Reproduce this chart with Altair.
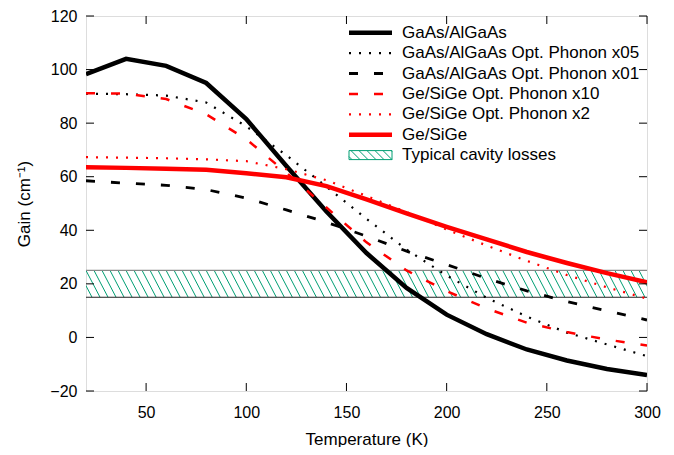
import altair as alt
import pandas as pd
import numpy as np

# ---------------- data ----------------
temps = [20, 40, 60, 80, 100, 120, 140, 160, 180, 200, 220, 240, 260, 280, 300]

gaas = [98.3, 104.0, 101.4, 95.0, 81.5, 64.0, 47.0, 31.5, 18.5, 8.5, 1.2, -4.5, -8.6, -11.8, -14.0]
gaas_x05 = [91.0, 90.8, 90.3, 87.7, 78.8, 68.0, 56.3, 44.3, 32.8, 23.1, 14.8, 7.8, 1.8, -2.6, -7.0]
gaas_x01 = [58.5, 57.6, 56.8, 55.2, 52.0, 47.6, 43.0, 37.8, 32.2, 27.2, 22.0, 17.4, 13.4, 9.9, 6.5]
ge_x10 = [91.2, 91.0, 89.0, 83.3, 74.0, 61.5, 48.5, 35.5, 25.0, 17.3, 10.8, 5.5, 2.0, -0.8, -3.0]
ge_x2 = [67.3, 67.1, 66.9, 66.5, 65.8, 62.8, 58.7, 52.8, 46.8, 40.3, 34.3, 28.6, 23.3, 18.7, 14.5]
ge = [63.5, 63.3, 63.0, 62.6, 61.3, 59.8, 56.5, 51.5, 46.3, 41.3, 36.6, 31.9, 27.8, 24.0, 20.6]

labels = [
    "GaAs/AlGaAs",
    "GaAs/AlGaAs Opt. Phonon x05",
    "GaAs/AlGaAs Opt. Phonon x01",
    "Ge/SiGe Opt. Phonon x10",
    "Ge/SiGe Opt. Phonon x2",
    "Ge/SiGe",
    "Typical cavity losses",
]
values = [gaas, gaas_x05, gaas_x01, ge_x10, ge_x2, ge]

band_low = [15]
band_high = [25]

x_ticks = [50, 100, 150, 200, 250, 300]
y_ticks = [-20, 0, 20, 40, 60, 80, 100, 120]
x_domain = [20, 300]
y_domain = [-20, 120]

# ---------------- styles ----------------
styles = [
    dict(color="#000000", strokeWidth=4.5),
    dict(color="#000000", strokeWidth=2.2, strokeDash=[2, 8]),
    dict(color="#000000", strokeWidth=2.8, strokeDash=[9, 16]),
    dict(color="#ff0000", strokeWidth=2.5, strokeDash=[9, 16]),
    dict(color="#ff0000", strokeWidth=2.2, strokeDash=[2, 8]),
    dict(color="#ff0000", strokeWidth=4.5),
]
HATCH = "#009e73"
FONT = "Liberation Sans"
W, H = 561, 375
TICK = 8
TICK_DY = TICK / H * (y_domain[1] - y_domain[0])
TICK_DX = TICK / W * (x_domain[1] - x_domain[0])

x_scale = alt.Scale(domain=x_domain, nice=False, zero=False)
y_scale = alt.Scale(domain=y_domain, nice=False, zero=False)

def ax_main(orient, vals, title, lab_pad, title_pad):
    return alt.Axis(orient=orient, values=vals, ticks=False, domain=False, grid=False,
                    labelFontSize=16, labelColor="black", labelPadding=lab_pad,
                    labelFlush=False, labelOverlap=False, labelFont=FONT, title=title,
                    titleFontSize=17, titleFontWeight="normal", titleColor="black",
                    titleFont=FONT, titlePadding=title_pad)

layers = []

# band
band_df = pd.DataFrame({"T": [x_domain[0]], "T2": [x_domain[1]],
                        "lo": band_low, "hi": band_high})
x0s = np.arange(x_domain[0] - 8, x_domain[1] + 1, 4.0)
hatch_df = pd.DataFrame({"xa": x0s, "xb": x0s + 7, "ya": band_high[0], "yb": band_low[0]})
layers.append(
    alt.Chart(hatch_df).mark_rule(color=HATCH, strokeWidth=1, clip=True).encode(
        x=alt.X("xa:Q", scale=x_scale, axis=None), x2="xb:Q",
        y=alt.Y("ya:Q", scale=y_scale, axis=None), y2="yb:Q")
)
layers.append(
    alt.Chart(band_df).mark_rule(color="#888888", strokeWidth=1.3).encode(
        x=alt.X("T:Q", scale=x_scale, axis=None), x2="T2:Q",
        y=alt.Y("hi:Q", scale=y_scale, axis=None))
)
layers.append(
    alt.Chart(band_df).mark_rule(color="#222222", strokeWidth=1).encode(
        x=alt.X("T:Q", scale=x_scale, axis=None), x2="T2:Q",
        y=alt.Y("lo:Q", scale=y_scale, axis=None))
)

for i, (lab, vals, st) in enumerate(zip(labels, values, styles)):
    df = pd.DataFrame({"T": temps, "gain": vals})
    if i == 0:
        xa = ax_main("bottom", x_ticks, "Temperature (K)", 13, 11)
        ya = ax_main("left", y_ticks, "Gain (cm\u207b\u00b9)", 9, 16)
    else:
        xa = None
        ya = None
    layers.append(
        alt.Chart(df).mark_line(clip=True, strokeCap="butt", **st).encode(
            x=alt.X("T:Q", scale=x_scale, axis=xa),
            y=alt.Y("gain:Q", scale=y_scale, axis=ya))
    )

# inward ticks on all four sides (gnuplot mirror ticks)
xt_lo = pd.DataFrame({"v": x_ticks, "a": y_domain[0], "b": y_domain[0] + TICK_DY})
xt_hi = pd.DataFrame({"v": x_ticks, "a": y_domain[1] - TICK_DY, "b": y_domain[1]})
yt_lo = pd.DataFrame({"v": y_ticks, "a": x_domain[0], "b": x_domain[0] + TICK_DX})
yt_hi = pd.DataFrame({"v": y_ticks, "a": x_domain[1] - TICK_DX, "b": x_domain[1]})
for d in (xt_lo, xt_hi):
    layers.append(alt.Chart(d).mark_rule(color="black", strokeWidth=1).encode(
        x=alt.X("v:Q", scale=x_scale, axis=None), x2="v:Q",
        y=alt.Y("a:Q", scale=y_scale, axis=None), y2="b:Q"))
for d in (yt_lo, yt_hi):
    layers.append(alt.Chart(d).mark_rule(color="black", strokeWidth=1).encode(
        y=alt.Y("v:Q", scale=y_scale, axis=None), y2="v:Q",
        x=alt.X("a:Q", scale=x_scale, axis=None), x2="b:Q"))

# ---------------- legend (manual, gnuplot style) ----------------
one = pd.DataFrame({"k": [0]})
LX0, LX1, TX = 263, 306, 316
row_y = [16.7 + 20.4 * i for i in range(7)]
for i, lab in enumerate(labels):
    yy = row_y[i]
    if i < 6:
        st = styles[i]
        layers.append(
            alt.Chart(one).mark_rule(strokeCap="butt", **st).encode(
                x=alt.value(LX0), x2=alt.value(LX1), y=alt.value(yy))
        )
    else:
        top, bot = yy - 4.5, yy + 4.5
        layers.append(
            alt.Chart(one).mark_rect(fill="white", fillOpacity=0, stroke=HATCH,
                                     strokeWidth=1).encode(
                x=alt.value(LX0), x2=alt.value(LX1), y=alt.value(top), y2=alt.value(bot))
        )
        hh = bot - top
        for s in np.arange(LX0 - hh + 3, LX1, 8.0):
            xa_, ya_ = s, top
            xb_, yb_ = s + hh, bot
            if xa_ < LX0:
                ya_ = top + (LX0 - xa_)
                xa_ = LX0
            if xb_ > LX1:
                yb_ = bot - (xb_ - LX1)
                xb_ = LX1
            if xb_ - xa_ < 0.5:
                continue
            layers.append(
                alt.Chart(one).mark_rule(color=HATCH, strokeWidth=1).encode(
                    x=alt.value(float(xa_)), x2=alt.value(float(xb_)),
                    y=alt.value(float(ya_)), y2=alt.value(float(yb_)))
            )
    layers.append(
        alt.Chart(one).mark_text(align="left", baseline="middle", fontSize=17,
                                 font=FONT, color="black").encode(
            x=alt.value(TX), y=alt.value(yy), text=alt.value(lab))
    )

chart = alt.layer(*layers).resolve_axis(
    x="independent", y="independent"
).properties(
    width=W, height=H,
    autosize=alt.AutoSizeParams(type="none"),
    padding={"left": 78, "top": 8, "right": 19, "bottom": 56},
    background="white",
).configure_view(stroke="black", strokeWidth=1.2).configure(font=FONT)

chart.save("out.html", embed_options={"renderer": "svg", "actions": False})
